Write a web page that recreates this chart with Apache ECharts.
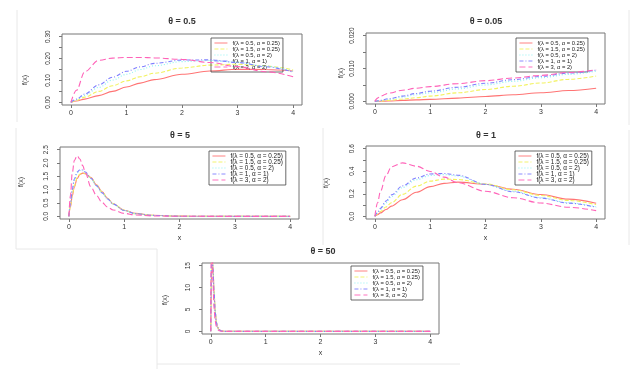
<!DOCTYPE html>
<html><head><meta charset="utf-8">
<script src="https://cdn.jsdelivr.net/npm/echarts@6/dist/echarts.min.js"></script>
<style>html,body{margin:0;padding:0;background:#fff}#c{width:633px;height:369px}</style>
</head><body><div id="c"></div>
<script>
// ---------- data ----------
const seriesNames = ['f(λ = 0.5, α = 0.25)', 'f(λ = 1.5, α = 0.25)', 'f(λ = 0.5, α = 2)', 'f(λ = 1, α = 1)', 'f(λ = 3, α = 2)'];
const panelTitles = ['θ = 0.5', 'θ = 0.05', 'θ = 5', 'θ = 1', 'θ = 50'];
const xTicks = [0, 1, 2, 3, 4];

// θ = 0.5
const x_p1 = [0, 0.1, 0.25, 0.5, 0.75, 1, 1.25, 1.5, 2, 2.5, 3, 3.5, 4];
const p1_red    = [0, 0.006, 0.015, 0.031, 0.050, 0.070, 0.088, 0.104, 0.128, 0.143, 0.151, 0.150, 0.143];
const p1_yellow = [0, 0.009, 0.024, 0.050, 0.076, 0.098, 0.117, 0.133, 0.157, 0.170, 0.174, 0.166, 0.148];
const p1_cyan   = [0, 0.012, 0.032, 0.068, 0.102, 0.128, 0.150, 0.167, 0.186, 0.191, 0.183, 0.165, 0.142];
const p1_blue   = [0, 0.015, 0.038, 0.080, 0.115, 0.142, 0.162, 0.178, 0.193, 0.194, 0.182, 0.163, 0.138];
const p1_pink   = [0, 0.055, 0.140, 0.192, 0.202, 0.205, 0.205, 0.203, 0.196, 0.182, 0.163, 0.140, 0.117];
const p1_yTicks  = [0, 0.05, 0.10, 0.15, 0.20, 0.25, 0.30];
const p1_yLabels = [0, 0.10, 0.20, 0.30];

// θ = 0.05
const x_p2 = [0, 0.05, 0.1, 0.25, 0.5, 0.75, 1, 1.5, 2, 2.5, 3, 3.5, 4];
const p2_red    = [0, 0.00002, 0.00005, 0.00012, 0.0003, 0.00045, 0.0006, 0.0010, 0.0015, 0.0020, 0.0026, 0.0033, 0.0040];
const p2_yellow = [0, 0.00005, 0.0001, 0.0003, 0.0007, 0.0011, 0.0016, 0.0026, 0.0036, 0.0046, 0.0056, 0.0067, 0.0077];
const p2_cyan   = [0, 0.0001, 0.0002, 0.0006, 0.0013, 0.0020, 0.0026, 0.0038, 0.0050, 0.0061, 0.0072, 0.0082, 0.0092];
const p2_blue   = [0, 0.00015, 0.0003, 0.0008, 0.0016, 0.0024, 0.0031, 0.0043, 0.0055, 0.0066, 0.0076, 0.0086, 0.0095];
const p2_pink   = [0, 0.0010, 0.0016, 0.0025, 0.0034, 0.0040, 0.0045, 0.0054, 0.0063, 0.0071, 0.0079, 0.0088, 0.0096];
const p2_yTicks  = [0, 0.005, 0.010, 0.015, 0.020];
const p2_yLabels = [0, 0.010, 0.020];

// θ = 5
const x_p3 = [0, 0.03, 0.06, 0.1, 0.15, 0.2, 0.25, 0.3, 0.4, 0.5, 0.6, 0.7, 0.8, 1, 1.2, 1.5, 2, 2.5, 3, 4];
const p3_red    = [0, 0.35, 0.75, 1.10, 1.42, 1.57, 1.62, 1.60, 1.45, 1.18, 0.92, 0.68, 0.47, 0.23, 0.11, 0.04, 0.008, 0.001, 0, 0];
const p3_yellow = [0, 0.40, 0.80, 1.15, 1.45, 1.59, 1.63, 1.60, 1.44, 1.17, 0.91, 0.67, 0.47, 0.23, 0.10, 0.035, 0.006, 0.001, 0, 0];
const p3_cyan   = [0, 0.47, 0.95, 1.35, 1.63, 1.72, 1.71, 1.63, 1.41, 1.14, 0.88, 0.65, 0.46, 0.22, 0.10, 0.033, 0.005, 0.001, 0, 0];
const p3_blue   = [0, 0.50, 1.00, 1.40, 1.66, 1.75, 1.74, 1.66, 1.43, 1.15, 0.88, 0.65, 0.46, 0.22, 0.10, 0.035, 0.005, 0.001, 0, 0];
const p3_pink   = [0, 0.80, 1.60, 2.10, 2.27, 2.15, 1.90, 1.62, 1.10, 0.78, 0.52, 0.35, 0.24, 0.11, 0.05, 0.015, 0.002, 0, 0, 0];
const p3_yTicks  = [0, 0.5, 1.0, 1.5, 2.0, 2.5];
const p3_yLabels = [0, 0.5, 1.0, 1.5, 2.0, 2.5];

// θ = 1
const x_p4 = [0, 0.05, 0.1, 0.2, 0.3, 0.5, 0.75, 1, 1.25, 1.5, 2, 2.5, 3, 3.5, 4];
const p4_red    = [0, 0.015, 0.030, 0.060, 0.090, 0.147, 0.213, 0.263, 0.292, 0.303, 0.285, 0.240, 0.193, 0.152, 0.116];
const p4_yellow = [0, 0.021, 0.042, 0.083, 0.120, 0.195, 0.268, 0.312, 0.330, 0.327, 0.287, 0.235, 0.185, 0.141, 0.103];
const p4_cyan   = [0, 0.030, 0.060, 0.120, 0.175, 0.255, 0.325, 0.362, 0.370, 0.358, 0.283, 0.222, 0.166, 0.120, 0.084];
const p4_blue   = [0, 0.035, 0.070, 0.135, 0.190, 0.270, 0.340, 0.376, 0.380, 0.365, 0.283, 0.218, 0.162, 0.117, 0.080];
const p4_pink   = [0, 0.120, 0.220, 0.360, 0.440, 0.474, 0.445, 0.398, 0.348, 0.298, 0.222, 0.165, 0.118, 0.080, 0.050];
const p4_yTicks  = [0, 0.1, 0.2, 0.3, 0.4, 0.5, 0.6];
const p4_yLabels = [0, 0.2, 0.4, 0.6];

// θ = 50
const x_p5 = [0, 0.005, 0.01, 0.015, 0.02, 0.03, 0.04, 0.06, 0.08, 0.1, 0.12, 0.15, 0.2, 0.3, 4];
const p5_red    = [0, 6.0, 11.0, 14.2, 15.7, 16.2, 14.5, 9.2, 4.7, 2.3, 1.1, 0.40, 0.08, 0, 0];
const p5_yellow = [0, 7.0, 12.0, 15.0, 16.0, 16.3, 14.4, 9.1, 4.7, 2.3, 1.0, 0.35, 0.06, 0, 0];
const p5_cyan   = [0, 8.0, 14.0, 16.5, 17.3, 17.1, 14.3, 8.8, 4.6, 2.2, 1.0, 0.33, 0.05, 0, 0];
const p5_blue   = [0, 8.5, 14.5, 17.0, 17.5, 17.2, 14.3, 8.8, 4.6, 2.2, 1.0, 0.35, 0.05, 0, 0];
const p5_pink   = [0, 14.0, 21.0, 22.7, 21.5, 16.2, 11.0, 5.2, 2.4, 1.1, 0.5, 0.15, 0.02, 0, 0];
const p5_yTicks  = [0, 5, 10, 15];
const p5_yLabels = [0, 5, 10, 15];

// ---------- assembly ----------
const panels = [
  { xs: x_p1, ys: [p1_red, p1_yellow, p1_cyan, p1_blue, p1_pink], yT: p1_yTicks, yL: p1_yLabels, dec: 2 },
  { xs: x_p2, ys: [p2_red, p2_yellow, p2_cyan, p2_blue, p2_pink], yT: p2_yTicks, yL: p2_yLabels, dec: 3 },
  { xs: x_p3, ys: [p3_red, p3_yellow, p3_cyan, p3_blue, p3_pink], yT: p3_yTicks, yL: p3_yLabels, dec: 1 },
  { xs: x_p4, ys: [p4_red, p4_yellow, p4_cyan, p4_blue, p4_pink], yT: p4_yTicks, yL: p4_yLabels, dec: 1 },
  { xs: x_p5, ys: [p5_red, p5_yellow, p5_cyan, p5_blue, p5_pink], yT: p5_yTicks, yL: p5_yLabels, dec: 0 }
];

// layout / style (not data)
const layout = [
  { grid: { left: 62, top: 34, width: 240, height: 71 }, ymin: -0.012, ymax: 0.312, title: [182, 17], legend: [211, 38], lf: 5.8, fx: [25, 80], xname: false },
  { grid: { left: 366, top: 33, width: 239, height: 71 }, ymin: -0.0008, ymax: 0.0208, title: [486, 17], legend: [516, 38], lf: 5.8, fx: [341, 73], xname: false },
  { grid: { left: 60, top: 147, width: 239, height: 72 }, ymin: -0.1, ymax: 2.6, title: [180, 131], legend: [209, 151], lf: 6.4, fx: [21, 182], xname: true },
  { grid: { left: 366, top: 146, width: 239, height: 73 }, ymin: -0.024, ymax: 0.624, title: [486, 131], legend: [515, 151], lf: 6.4, fx: [326, 183], xname: true },
  { grid: { left: 202, top: 263, width: 237, height: 71 }, ymin: -0.6, ymax: 15.6, title: [323, 247], legend: [351, 266], lf: 5.8, fx: [165, 300], xname: true }
];
const colors = ['#ff7474', '#f2f25e', '#86f2f2', '#7f7fff', '#ff62b8'];
const dashes = ['solid', [4, 2], [1, 2], [4, 2, 1, 2], [6, 3]];
const FONT = 'Liberation Sans, Arial, sans-serif';
const axisGray = '#777';

const option = {
  animation: false,
  backgroundColor: '#fff',
  textStyle: { fontFamily: FONT },
  title: layout.map((L, p) => ({
    text: panelTitles[p], left: L.title[0], top: L.title[1], textAlign: 'center', padding: 0,
    textStyle: { fontSize: 9, fontWeight: 'bold', color: '#333', fontFamily: FONT }
  })),
  grid: layout.map(L => Object.assign({ show: true, borderColor: axisGray, borderWidth: 1, backgroundColor: 'transparent' }, L.grid)),
  xAxis: layout.map((L, p) => ({
    type: 'value', gridIndex: p, min: -0.16, max: 4.16,
    name: L.xname ? 'x' : '', nameLocation: 'middle', nameGap: 16,
    nameTextStyle: { fontSize: 7, color: '#333', fontFamily: FONT },
    axisLine: { show: false, onZero: false },
    axisTick: { show: true, length: 3, customValues: xTicks, lineStyle: { color: axisGray } },
    axisLabel: { customValues: xTicks, fontSize: 7, margin: 5, color: '#333', fontFamily: FONT },
    splitLine: { show: false }
  })),
  yAxis: layout.map((L, p) => ({
    type: 'value', gridIndex: p, min: L.ymin, max: L.ymax,
    axisLine: { show: false, onZero: false },
    axisTick: { show: true, length: 3, customValues: panels[p].yT, lineStyle: { color: axisGray } },
    axisLabel: { customValues: panels[p].yL, rotate: 90, fontSize: 6.5, margin: 10, color: '#333', fontFamily: FONT,
      formatter: v => Number(v).toFixed(panels[p].dec) },
    splitLine: { show: false }
  })),
  legend: layout.map((L, p) => ({
    data: seriesNames, left: L.legend[0], top: L.legend[1], orient: 'vertical',
    itemGap: 0, itemWidth: 13, itemHeight: 4, padding: [2, 3, 2, 3],
    borderColor: '#444', borderWidth: 0.8, selectedMode: false,
    lineStyle: { width: 0.9 },
    itemStyle: { opacity: 0 },
    textStyle: { fontSize: L.lf, lineHeight: 4.6, color: '#222', fontFamily: FONT }
  })),
  graphic: [
    ...layout.map(L => ({ type: 'text', x: L.fx[0], y: L.fx[1], rotation: Math.PI / 2,
      style: { text: 'f(x)', fontSize: 7, fill: '#333', fontFamily: FONT, align: 'center', verticalAlign: 'middle' } })),
    { type: 'line', shape: { x1: 17, y1: 10, x2: 17, y2: 122 }, style: { stroke: '#e8e8e8', lineWidth: 1 } },
    { type: 'line', shape: { x1: 629, y1: 10, x2: 629, y2: 125 }, style: { stroke: '#e8e8e8', lineWidth: 1 } },
    { type: 'line', shape: { x1: 16, y1: 128, x2: 16, y2: 249 }, style: { stroke: '#e8e8e8', lineWidth: 1 } },
    { type: 'line', shape: { x1: 323, y1: 128, x2: 323, y2: 245 }, style: { stroke: '#e8e8e8', lineWidth: 1 } },
    { type: 'line', shape: { x1: 629, y1: 130, x2: 629, y2: 245 }, style: { stroke: '#e8e8e8', lineWidth: 1 } },
    { type: 'line', shape: { x1: 16, y1: 249, x2: 157, y2: 249 }, style: { stroke: '#e8e8e8', lineWidth: 1 } },
    { type: 'line', shape: { x1: 157, y1: 249, x2: 157, y2: 369 }, style: { stroke: '#e8e8e8', lineWidth: 1 } },
    { type: 'line', shape: { x1: 157, y1: 364, x2: 460, y2: 364 }, style: { stroke: '#e8e8e8', lineWidth: 1 } }
  ],
  series: []
};

panels.forEach((P, p) => {
  P.ys.forEach((ys, k) => {
    option.series.push({
      type: 'line', name: seriesNames[k], xAxisIndex: p, yAxisIndex: p,
      data: P.xs.map((x, i) => [x, ys[i]]),
      smooth: 0.35, smoothMonotone: 'x', symbol: 'none', showSymbol: false, clip: true,
      lineStyle: { color: colors[k], width: 1.1, type: dashes[k] },
      itemStyle: { color: colors[k] },
      z: 2 + k
    });
  });
});

const chart = echarts.init(document.getElementById('c'), null, { renderer: 'canvas' });
chart.setOption(option);
</script>
</body></html>
